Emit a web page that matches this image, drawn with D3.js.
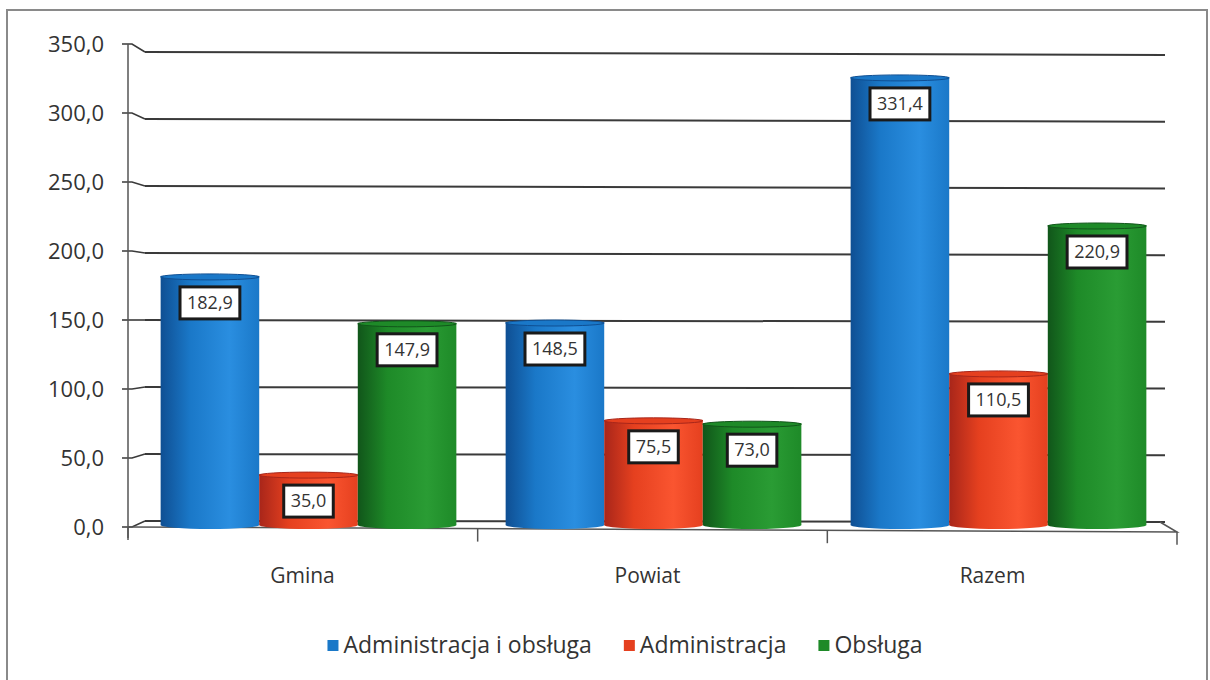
<!DOCTYPE html>
<html>
<head>
<meta charset="utf-8">
<script src="https://cdn.jsdelivr.net/npm/d3@7"></script>
<style>
  html, body { margin: 0; padding: 0; background: #fff; }
  svg { display: block; }
  text { font-family: "Open Sans", Lato, sans-serif; fill: #333; }
</style>
</head>
<body>
<svg id="chart" width="1210" height="680"></svg>
<script>
const categories = ["Gmina", "Powiat", "Razem"];
const seriesNames = ["Administracja i obsługa", "Administracja", "Obsługa"];
const valuesAdmObs = [182.9, 148.5, 331.4];
const valuesAdm = [35.0, 75.5, 110.5];
const valuesObs = [147.9, 73.0, 220.9];
const yTicks = [0, 50, 100, 150, 200, 250, 300, 350];
const seriesValues = [valuesAdmObs, valuesAdm, valuesObs];
const colors = [
  { dark: "#0f4f93", mid: "#1a78c8", light: "#2a8ee0" },
  { dark: "#a8261a", mid: "#e5401f", light: "#fa5530" },
  { dark: "#11561a", mid: "#1e8a28", light: "#2a9c34" }
];

const svg = d3.select("#chart");
const fmt = v => d3.format(".1f")(v).replace(".", ",");

// outer frame
svg.append("rect").attr("x", 7).attr("y", 10).attr("width", 1200).attr("height", 720)
  .attr("fill", "none").attr("stroke", "#8a8a8a").attr("stroke-width", 2);

// scales
const yFront = d3.scaleLinear().domain([0, 350]).range([527, 44]);
const yBack = d3.scaleLinear().domain([0, 350]).range([521, 52]);
const yBackR = d3.scaleLinear().domain([0, 350]).range([522, 55]);
const xFront = d3.scaleBand().domain(categories).range([128, 1177]);
const xMid = d3.scaleBand().domain(categories).range([136, 1171]);
const xInner = d3.scaleBand().domain(d3.range(3)).range([0, xMid.bandwidth()]).paddingOuter(0.25).paddingInner(0);

// gradients
const defs = svg.append("defs");
colors.forEach((c, i) => {
  const g = defs.append("linearGradient").attr("id", "g" + i).attr("x1", 0).attr("x2", 1).attr("y1", 0).attr("y2", 0);
  g.append("stop").attr("offset", "0%").attr("stop-color", c.dark);
  g.append("stop").attr("offset", "30%").attr("stop-color", c.mid);
  g.append("stop").attr("offset", "70%").attr("stop-color", c.light);
  g.append("stop").attr("offset", "100%").attr("stop-color", c.mid);
});

// gridlines on back wall
const grid = svg.append("g");
yTicks.forEach(v => {
  grid.append("line").attr("x1", 145).attr("x2", 1165)
    .attr("y1", yBack(v)).attr("y2", yBackR(v))
    .attr("stroke", "#3a3a3a").attr("stroke-width", 2);
  grid.append("path")
    .attr("d", `M122,${yFront(v)} L132,${yFront(v)} L145,${yBack(v)}`)
    .attr("fill", "none").attr("stroke", "#3a3a3a").attr("stroke-width", 1.6);
});

// y axis (front)
svg.append("line").attr("x1", 128).attr("x2", 128).attr("y1", yFront(350)).attr("y2", 538)
  .attr("stroke", "#555").attr("stroke-width", 1.5);
// floor front edge and right edge
svg.append("path").attr("d", `M128,${yFront(0)} L1177,532 L1160,${yBackR(0)}`)
  .attr("fill", "none").attr("stroke", "#555").attr("stroke-width", 1.5);
// category ticks
categories.concat(["end"]).forEach((c, i) => {
  const x = i < categories.length ? xFront(c) : xFront.range()[1];
  svg.append("line").attr("x1", x).attr("x2", x).attr("y1", 527 + i * 1.6).attr("y2", 540 + i * 1.6)
    .attr("stroke", "#555").attr("stroke-width", 1.5);
});

// y tick labels
svg.append("g").selectAll("text").data(yTicks).join("text")
  .attr("x", 104).attr("y", d => yFront(d)).attr("dy", "0.35em")
  .attr("text-anchor", "end").attr("font-size", 22).text(d => fmt(d));

// category labels
svg.append("g").selectAll("text").data(categories).join("text")
  .attr("x", d => xMid(d) + xMid.bandwidth() / 2 - 6).attr("y", 583)
  .attr("text-anchor", "middle").attr("font-size", 21).text(d => d);

// bars (cylinders)
const baseY = 525;
const bars = svg.append("g");
categories.forEach((cat, ci) => {
  seriesValues.forEach((vals, si) => {
    const v = vals[ci];
    const x0 = xMid(cat) + xInner(si);
    const w = xInner.bandwidth();
    const top = yBack(v);
    const g = bars.append("g");
    g.append("ellipse").attr("cx", x0 + w / 2).attr("cy", baseY).attr("rx", w / 2).attr("ry", 4)
      .attr("fill", `url(#g${si})`);
    g.append("rect").attr("x", x0).attr("y", top).attr("width", w).attr("height", baseY - top)
      .attr("fill", `url(#g${si})`);
    g.append("ellipse").attr("cx", x0 + w / 2).attr("cy", top + 1).attr("rx", w / 2).attr("ry", 3)
      .attr("fill", colors[si].mid).attr("stroke", colors[si].dark).attr("stroke-width", 1);
  });
});

// value labels
const labels = svg.append("g");
categories.forEach((cat, ci) => {
  seriesValues.forEach((vals, si) => {
    const v = vals[ci];
    const cx = xMid(cat) + xInner(si) + xInner.bandwidth() / 2;
    const cy = yBack(v) + 27;
    const lg = labels.append("g");
    const t = lg.append("text").attr("x", cx).attr("y", cy).attr("dy", "0.35em")
      .attr("text-anchor", "middle").attr("font-size", 18).text(fmt(v));
    const tw = t.node().getComputedTextLength();
    lg.insert("rect", "text").attr("x", cx - tw / 2 - 7).attr("y", cy - 16)
      .attr("width", tw + 14).attr("height", 32)
      .attr("fill", "#fff").attr("stroke", "#1a1a1a").attr("stroke-width", 3);
  });
});

// legend
const legend = svg.append("g");
let xpos = 0;
seriesNames.forEach((name, i) => {
  const gi = legend.append("g");
  gi.append("rect").attr("x", 0).attr("y", -5).attr("width", 11).attr("height", 11)
    .attr("fill", colors[i].mid);
  const t = gi.append("text").attr("x", 16).attr("y", 0).attr("dy", "0.35em")
    .attr("font-size", 23).text(name);
  const w = 16 + t.node().getComputedTextLength();
  gi.attr("transform", `translate(${xpos},0)`);
  xpos += w + 32;
});
const totalW = xpos - 32;
legend.attr("transform", `translate(${625 - totalW / 2},645)`);
</script>
</body>
</html>
